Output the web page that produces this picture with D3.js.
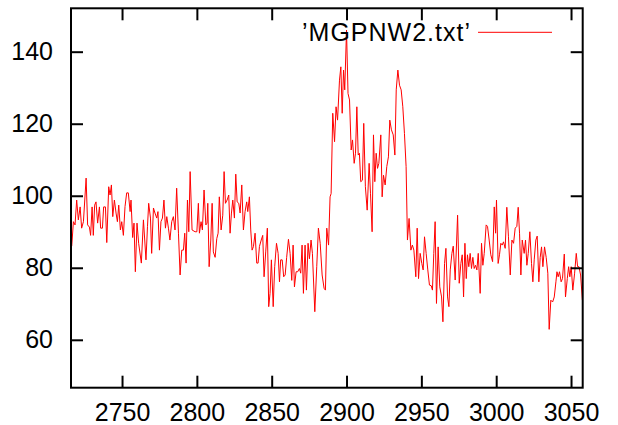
<!DOCTYPE html>
<html><head><meta charset="utf-8">
<script src="https://cdn.jsdelivr.net/npm/d3@7"></script>
<style>body{margin:0;background:#fff} text{font-family:"Liberation Sans",Arial,sans-serif}</style>
</head><body><svg id="c" width="618" height="425"></svg>
<script>
const wavenumber = [
2716.4,2717.5,2718.6,2719.7,2720.8,2722.0,2723.0,2724.2,2726.0,2727.0,2728.2,2729.0,2730.0,2730.8,2731.7,2732.6,2733.7,2734.9,2735.7,2736.9,
2737.7,2738.9,2739.8,2741.1,2742.0,2742.9,2743.8,2744.9,2746.0,2746.9,2747.8,2748.9,2749.8,2750.9,2752.0,2753.1,2754.2,2755.4,2756.0,2757.1,
2758.0,2758.9,2760.0,2761.1,2762.9,2764.3,2766.0,2767.0,2767.8,2769.0,2769.8,2771.0,2772.0,2773.2,2774.0,2775.0,2776.0,2777.0,2778.0,2779.0,
2779.9,2781.0,2782.0,2783.2,2784.3,2785.4,2786.5,2787.7,2788.8,2789.9,2791.0,2791.9,2792.8,2793.7,2794.6,2795.5,2796.8,2798.8,2800.0,2801.0,
2801.7,2802.8,2803.7,2804.8,2806.0,2806.8,2807.3,2808.2,2809.3,2810.2,2811.0,2812.2,2813.3,2814.2,2815.0,2816.2,2817.3,2818.2,2819.1,2820.2,
2821.3,2822.2,2823.1,2824.0,2825.1,2826.0,2826.9,2828.0,2828.9,2830.0,2831.1,2832.2,2833.3,2834.0,2835.1,2836.0,2836.9,2837.8,2838.9,2840.0,
2840.9,2841.8,2843.0,2844.0,2844.9,2846.0,2847.1,2848.0,2848.9,2849.8,2851.0,2852.0,2853.2,2854.3,2855.2,2856.0,2857.0,2858.0,2859.0,2860.0,
2861.2,2862.3,2863.4,2864.3,2865.2,2866.3,2867.4,2868.5,2869.4,2870.3,2871.2,2872.3,2873.2,2874.3,2875.2,2876.3,2877.2,2878.8,2880.1,2881.2,
2882.4,2883.7,2885.0,2885.9,2886.8,2888.0,2889.0,2889.7,2890.8,2892.0,2893.0,2894.0,2895.3,2896.2,2897.1,2898.0,2898.8,2900.0,2901.0,2902.0,
2903.1,2904.0,2905.1,2906.0,2906.9,2907.8,2908.6,2909.5,2910.6,2911.5,2912.6,2913.8,2915.1,2916.0,2917.1,2918.0,2918.9,2919.8,2920.7,2921.6,
2922.9,2923.8,2924.7,2925.8,2926.9,2928.0,2928.9,2930.0,2931.2,2932.3,2933.2,2934.3,2935.4,2936.5,2937.6,2938.7,2939.8,2940.7,2941.8,2943.0,
2944.0,2945.0,2946.3,2947.2,2948.1,2949.2,2950.3,2951.2,2952.1,2953.2,2954.3,2955.4,2956.6,2957.4,2958.3,2959.2,2960.1,2961.2,2962.3,2963.5,
2964.4,2965.5,2966.4,2967.5,2968.4,2969.3,2970.4,2971.3,2972.6,2974.2,2975.3,2976.4,2977.3,2978.2,2979.1,2980.0,2980.8,2981.7,2982.6,2983.5,
2984.4,2985.3,2986.2,2987.1,2988.0,2989.3,2990.2,2991.1,2992.0,2993.3,2994.2,2995.3,2996.4,2997.6,2998.7,2999.6,3000.2,3001.3,3002.2,3003.1,
3004.0,3004.9,3006.0,3007.1,3008.2,3009.4,3010.5,3011.6,3012.7,3013.8,3014.7,3015.6,3016.5,3017.4,3018.7,3019.6,3020.5,3021.4,3022.5,3023.6,
3024.5,3025.4,3026.5,3027.4,3028.5,3029.4,3030.3,3031.2,3032.3,3033.4,3034.5,3035.4,3036.5,3037.7,3038.8,3039.9,3040.6,3041.4,3042.3,3043.4,
3044.3,3045.5,3046.3,3047.5,3048.4,3049.2,3050.1,3051.2,3052.4,3053.5,3054.4,3055.3,3056.4,3057.6
];
const intensity = [
86,92.8,91.9,98.8,93.3,96.9,91,92.8,104.9,91.9,91.3,89,96.9,89,97.4,98.3,92.4,96.9,91,91,
96.9,96.9,87,102.5,100.2,103,94.2,98.8,95.2,92.8,97.4,90.5,92.8,89,97,100.8,100.8,95.6,98.8,88.4,
92.4,78.9,92.4,86.8,81.3,93.3,82.2,91.4,97.9,93.8,84,96.6,95.2,93.8,95.6,84.9,92.8,93.8,98.8,91,
94.2,91,87.7,92.8,94.2,90.5,102.1,89.6,78,84.9,84.9,89.6,81.3,98.8,90,106.7,90.5,90,90,97.9,
89.6,92.8,90.5,101.6,91.9,92.4,97.9,80.3,87.7,97.9,84.4,82.9,88.1,89.6,99.7,90.5,94.6,106.7,97.9,98.8,
100.2,89.6,95.2,98.8,93.8,106,98.3,97.9,95.2,103,90.5,95.6,98.3,95.6,99.7,90.5,84.9,85.9,89.6,81.3,
81.3,85.9,87.7,89,77.5,84.4,91,69.2,72.9,82.2,69.2,80.3,86.8,84,76.1,82.2,82.2,77.5,78,82.9,
87.9,84,76.5,86.3,74.7,78.9,78.9,79.8,78.5,86.3,72.9,86.3,73.8,86.8,82.5,87.7,84,67.8,80.3,91,
86.8,78,74.3,73.8,91,86.3,99.7,100.6,122.9,115,124.7,121,132.1,135.8,122.9,134.9,129.4,146,128.4,126.6,
112.7,115.5,109,111.8,124.7,111.3,111.8,103.9,104.3,120.1,102.5,96,109,100.7,90,116.9,103.9,111.8,107.6,109,
116.9,99.7,105.7,103,108.1,110.8,121,118.3,116.9,111.3,129.4,134.9,130.7,129.4,124.7,117.3,108.1,87.7,93.7,84.9,
86.3,84.9,77.5,91,77,84,81.2,79.4,88.6,84,79.4,75.2,75,73.8,84,92.8,70.1,85.8,74.7,71.9,
65,81.2,85.4,71.9,69.2,79.4,84,86,76.6,94.6,75.7,81.2,83.6,71.9,86.8,77,83.6,80.3,84,79.8,
82.9,79.8,80.7,79.4,84,72.9,86.8,80.7,84,91.9,91.5,87.7,83.6,81.7,96.9,89.6,98.8,81.2,83.6,86.8,
86.3,87.2,85.4,96.8,88.6,78,87.7,86.8,91,91.5,96.8,89.6,78,87.7,84,87.7,80.7,84,90,81.2,
76.1,82.2,87.7,88.8,76.1,82.9,85.8,80.3,85.8,82.9,78.5,62.9,71,70.5,71.9,76.1,78.9,77.5,78.9,76.1,
77,83.8,71.9,77,80.3,77.5,80.3,73.8,78.5,84,80.3,80.3,78,71
];
const xTicks = [2750,2800,2850,2900,2950,3000,3050];
const yTicks = [60,80,100,120,140];
const xDomain = [2715.9,3057.8];
const yDomain = [46.7,152.05];
const seriesLabel = "\u2019MGPNW2.txt\u2019";

const svg = d3.select("#c");
const L=71, R=582.7, T=8.3, B=387.7, TICK=12, FS=25;
const x = d3.scaleLinear().domain(xDomain).range([L,R]);
const y = d3.scaleLinear().domain(yDomain).range([B,T]);
const data = wavenumber.map((w,i)=>({x:w,y:intensity[i]}));

const line = d3.line().x(d=>x(d.x)).y(d=>y(d.y));
svg.append("path").datum(data).attr("d",line)
  .attr("fill","none").attr("stroke","#ff0000").attr("stroke-width",1);

function styleAxis(g){
  g.select(".domain").remove();
  g.selectAll(".tick line").attr("stroke","#000").attr("stroke-width",2);
  g.selectAll(".tick text").attr("font-size",FS).attr("fill","#000").attr("font-family",'"Liberation Sans",Arial,sans-serif');
}
svg.append("g").attr("transform",`translate(0,${B})`)
  .call(d3.axisBottom(x).tickValues(xTicks).tickSize(-TICK).tickPadding(16).tickFormat(d3.format("d")))
  .call(styleAxis);
svg.append("g").attr("transform",`translate(0,${T})`)
  .call(d3.axisTop(x).tickValues(xTicks).tickSize(-TICK).tickFormat(""))
  .call(styleAxis);
svg.append("g").attr("transform",`translate(${L},0)`)
  .call(d3.axisLeft(y).tickValues(yTicks).tickSize(-TICK).tickPadding(18).tickFormat(d3.format("d")))
  .call(styleAxis);
svg.append("g").attr("transform",`translate(${R},0)`)
  .call(d3.axisRight(y).tickValues(yTicks).tickSize(-TICK).tickFormat(""))
  .call(styleAxis);

svg.append("rect").attr("x",L).attr("y",T).attr("width",R-L).attr("height",B-T)
  .attr("fill","none").attr("stroke","#000").attr("stroke-width",2);

// legend
svg.append("text").attr("x",471).attr("y",41).attr("text-anchor","end")
  .attr("font-size",FS).attr("letter-spacing","1px").attr("fill","#000").text(seriesLabel);
svg.append("line").attr("x1",478).attr("x2",552).attr("y1",32.3).attr("y2",32.3)
  .attr("stroke","#ff0000").attr("stroke-width",1);
</script></body></html>
